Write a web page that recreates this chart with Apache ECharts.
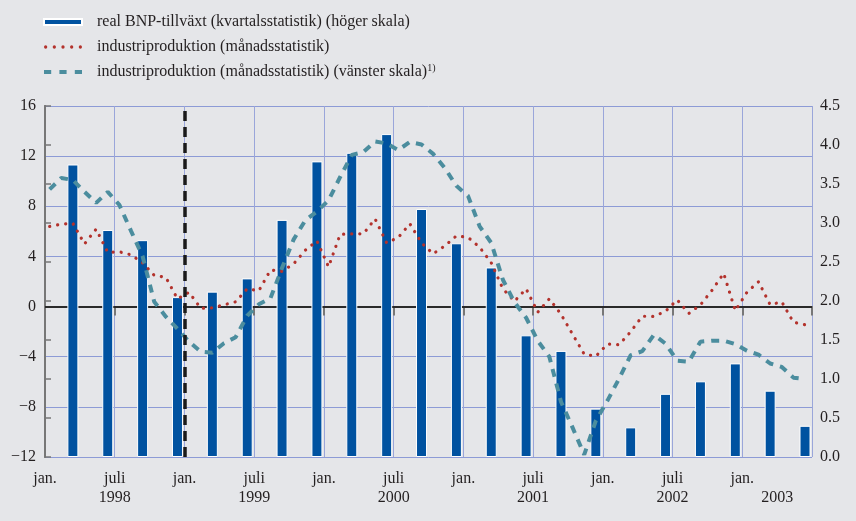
<!DOCTYPE html>
<html>
<head>
<meta charset="utf-8">
<script src="https://cdn.jsdelivr.net/npm/echarts@6/dist/echarts.min.js"></script>
<style>
  html, body { margin: 0; padding: 0; background: #e5e6e9; }
  #chart { width: 856px; height: 521px; }
</style>
</head>
<body>
<div id="chart"></div>
<script>
// kvartal: real BNP-tillväxt (höger skala), Q1 1998 .. Q2 2003
const gdpGrowth = [3.75, 2.91, 2.78, 2.05, 2.12, 2.29, 3.04, 3.79, 3.90, 4.14, 3.18, 2.74,
  2.43, 1.56, 1.36, 0.62, 0.38, 0.81, 0.97, 1.20, 0.85, 0.40]

// månad: industriproduktion, jan 1998 .. juni 2003
const indProd = [6.39, 6.57, 6.64, 5.0, 6.18, 4.33, 4.37, 4.13, 3.49, 2.49, 2.33, 0.62,
  1.14, -0.14, -0.10, 0.14, 0.38, 1.42, 1.26, 2.91, 2.81, 3.41, 4.49, 5.24,
  3.17, 5.76, 5.80, 5.80, 7.0, 5.08, 5.52, 6.6, 5.08, 4.21, 4.84, 5.64,
  5.52, 4.73, 3.49, 1.42, 0.42, 1.42, -0.45, 0.62, -0.61, -2.21, -3.8, -3.96,
  -2.99, -3.04, -2.0, -0.77, -0.79, -0.37, 0.54, -0.55, 0.14, 1.3, 2.65, -0.33,
  1.14, 1.98, 0.14, 0.38, -1.25, -1.45]

// månad: industriproduktion (vänster skala)
const indProdLeft = [9.35, 10.26, 10.1, 9.15, 8.27, 9.15, 8.11, 6.04, 4.01, 0.38, -0.81, -1.77,
  -2.8, -3.6, -3.68, -2.92, -2.45, -0.73, 0.18, 0.66, 3.09, 5.36, 6.88, 7.59,
  8.47, 10.34, 12.1, 12.33, 13.17, 13.01, 12.49, 13.13, 12.93, 12.18, 11.06, 9.63,
  8.83, 6.4, 5.08, 2.14, 0.34, -0.89, -2.73, -4.0, -7.59, -9.66, -11.81, -9.1,
  -7.5, -5.75, -3.88, -3.56, -2.25, -2.96, -4.32, -4.4, -2.8, -2.72, -2.72, -3.0,
  -3.52, -3.84, -4.54, -4.82, -5.67, -5.79]

// x-axelns etiketter (månader från jan 1998)
const tickLabels = { 0: 'jan.', 6: 'juli\n1998', 12: 'jan.', 18: 'juli\n1999', 24: 'jan.', 30: 'juli\n2000',
  36: 'jan.', 42: 'juli\n2001', 48: 'jan.', 54: 'juli\n2002', 60: 'jan.' }
const yearLabels = { 63: '\n2003' }

const names = [
  'real BNP-tillväxt (kvartalsstatistik) (höger skala)',
  'industriproduktion (månadsstatistik)',
  'industriproduktion (månadsstatistik) (vänster skala)'
]

const font = 'Liberation Serif'
const textColor = '#231f20'
const red = '#b3322c'
const teal = '#4b8d9e'

// legendikoner: prickar resp. streck
const dot = x => 'M' + x + ',1.6a1.6,1.6 0 1,0 3.2,0a1.6,1.6 0 1,0 -3.2,0z'
const dotsIcon = 'path://' + [0, 8.4, 16.8, 25.2, 33.6].map(dot).join(' ')
const dashIcon = 'path://M0,0h7v4h-7z M15,0h7v4h-7z M30,0h7v4h-7z'

const gdpData = gdpGrowth.map((v, q) => [q * 3 + 2.4, v])
const indData = indProd.map((v, m) => [m + 0.4, v])
const indLeftData = indProdLeft.map((v, m) => [m + 0.4, v])

const chart = echarts.init(document.getElementById('chart'))
chart.setOption({
  backgroundColor: '#e5e6e9',
  animation: false,
  legend: {
    orient: 'vertical',
    left: 43,
    top: 13,
    padding: 0,
    itemWidth: 38,
    itemHeight: 6,
    itemGap: 7,
    textStyle: {
      fontFamily: font, fontSize: 16, color: textColor, lineHeight: 18,
      padding: [0, 0, 0, 10],
      rich: { sup: { fontFamily: font, fontSize: 10, color: textColor, verticalAlign: 'top', lineHeight: 10 } }
    },
    formatter: function (name) {
      return name === names[2] ? name + '{sup|1)}' : name
    },
    data: [
      { name: names[0], icon: 'rect' },
      { name: names[1], icon: dotsIcon, itemStyle: { color: red, borderWidth: 0 } },
      { name: names[2], icon: dashIcon, itemStyle: { color: teal, borderWidth: 0 } }
    ]
  },
  grid: { left: 45, right: 44, top: 106, bottom: 64 },
  xAxis: [{
    type: 'value',
    min: 0, max: 66, interval: 6,
    axisLine: { lineStyle: { color: '#777', width: 2 } },
    axisTick: { show: true, length: 9, lineStyle: { color: '#777', width: 2 } },
    splitLine: { show: true, lineStyle: { color: '#9aa6da', width: 1 } },
    axisLabel: {
      fontFamily: font, fontSize: 16, color: textColor, margin: 12, lineHeight: 19,
      formatter: v => tickLabels[v] || ''
    }
  }, {
    type: 'value',
    position: 'bottom',
    min: 0, max: 66, interval: 3,
    axisLine: { show: false },
    axisTick: { show: false },
    splitLine: { show: false },
    axisLabel: {
      fontFamily: font, fontSize: 16, color: textColor, margin: 12, lineHeight: 19,
      formatter: v => yearLabels[v] || ''
    }
  }],
  yAxis: [{
    type: 'value',
    min: -12, max: 16, interval: 4,
    axisLine: { show: true, lineStyle: { color: '#777', width: 2 } },
    axisTick: { show: false },
    splitLine: { show: true, lineStyle: { color: '#8d9bd6', width: 1 } },
    axisLabel: {
      fontFamily: font, fontSize: 16, color: textColor, margin: 9,
      formatter: v => String(v).replace('-', '\u2212')
    }
  }, {
    type: 'value',
    position: 'right',
    min: 0, max: 4.5, interval: 0.5,
    alignTicks: false,
    axisLine: { show: true, lineStyle: { color: '#777', width: 2 } },
    axisTick: { show: true, length: 6, lineStyle: { color: '#777', width: 1.5 } },
    splitLine: { show: false },
    axisLabel: {
      fontFamily: font, fontSize: 16, color: textColor, margin: 8,
      formatter: v => v.toFixed(1)
    }
  }],
  series: [
    {
      name: names[0],
      type: 'bar',
      xAxisIndex: 0,
      yAxisIndex: 1,
      data: gdpData,
      barWidth: 11,
      z: 2,
      itemStyle: { color: '#0052a0', borderColor: '#ffffff', borderWidth: 1 }
    },
    {
      name: names[1],
      type: 'line',
      yAxisIndex: 0,
      data: indData,
      symbol: 'none',
      z: 3,
      lineStyle: { color: red, width: 3.2, type: [0.1, 8], cap: 'round' },
      itemStyle: { color: red }
    },
    {
      name: names[2],
      type: 'line',
      yAxisIndex: 0,
      data: indLeftData,
      symbol: 'none',
      z: 4,
      lineStyle: { color: teal, width: 4, type: [8, 7] },
      itemStyle: { color: teal },
      markLine: {
        silent: true, symbol: 'none', z: 5,
        label: { show: false },
        data: [
          { xAxis: 12, lineStyle: { color: '#1a1a1a', width: 3.5, type: [10, 6] } }
        ]
      }
    },
    {
      name: 'nollinje',
      type: 'line',
      yAxisIndex: 0,
      data: [],
      z: 1,
      markLine: {
        silent: true, symbol: 'none', z: 1,
        label: { show: false },
        lineStyle: { color: '#111', width: 1.5, type: 'solid' },
        data: [{ yAxis: 0 }]
      }
    }
  ]
})
</script>
</body>
</html>
